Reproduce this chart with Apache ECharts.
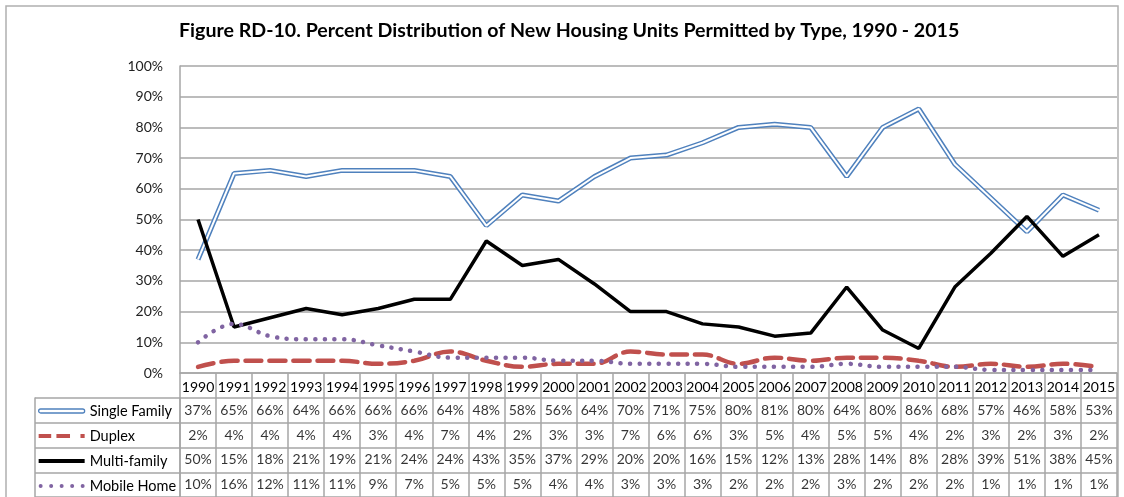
<!DOCTYPE html>
<html>
<head>
<meta charset="utf-8">
<script src="https://cdn.jsdelivr.net/npm/echarts@6/dist/echarts.min.js"></script>
<style>
html, body { margin: 0; padding: 0; background: #fff; }
#main { width: 1124px; height: 497px; }
</style>
</head>
<body>
<div id="main"></div>
<script>
// data
var years = ['1990','1991','1992','1993','1994','1995','1996','1997','1998','1999','2000','2001','2002',
	'2003','2004','2005','2006','2007','2008','2009','2010','2011','2012','2013','2014','2015'];
var singleFamily = [37,65,66,64,66,66,66,64,48,58,56,64,70,71,75,80,81,80,64,80,86,68,57,46,58,53];
var duplex       = [2,4,4,4,4,3,4,7,4,2,3,3,7,6,6,3,5,4,5,5,4,2,3,2,3,2];
var multiFamily  = [50,15,18,21,19,21,24,24,43,35,37,29,20,20,16,15,12,13,28,14,8,28,39,51,38,45];
var mobileHome   = [10,16,12,11,11,9,7,5,5,5,4,4,3,3,3,2,2,2,3,2,2,2,1,1,1,1];
var seriesNames  = ['Single Family','Duplex','Multi-family','Mobile Home'];

var FONT = 'Lato';
var GRIDC = '#a6a6a6';

// cells of the data table
var tableRows = [singleFamily, duplex, multiFamily, mobileHome];
var tableCells = [];
for (var r = 0; r < tableRows.length; r++) {
	for (var c = 0; c < years.length; c++) {
		tableCells.push([c, r, tableRows[r][c]]);
	}
}

var dots = '';
for (var d = 0; d < 5; d++) {
	var cx = 2 + d * 10.5;
	dots += 'M' + (cx - 2) + ',2 a2,2 0 1,0 4,0 a2,2 0 1,0 -4,0 ';
}

var option = {
	animation: false,
	backgroundColor: '#fff',
	textStyle: { fontFamily: FONT },
	title: {
		text: 'Figure RD-10. Percent Distribution of New Housing Units Permitted by Type, 1990 - 2015',
		left: 179,
		top: 21,
		padding: 0,
		textStyle: { fontFamily: FONT, fontSize: 19.6, fontWeight: 'bold', color: '#000' }
	},
	legend: {
		orient: 'vertical',
		left: 38,
		top: 403.5,
		padding: 0,
		itemWidth: 46,
		itemHeight: 14,
		itemGap: 10,
		selectedMode: false,
		textStyle: { fontFamily: FONT, fontSize: 14.5, lineHeight: 14, color: '#000' },
		data: [
			{ name: 'Single Family', icon: 'path://M2,0 L44,0 A2,2 0 0 1 44,4 L2,4 A2,2 0 0 1 2,0 Z',
				itemStyle: { color: '#fff', borderColor: '#4f81bd', borderWidth: 1.3 } },
			{ name: 'Duplex', icon: 'path://M0,0 L12,0 L12,4 L0,4 Z M17,0 L30,0 L30,4 L17,4 Z M40,0 L44,0 L44,4 L40,4 Z',
				itemStyle: { color: '#c0504d', borderWidth: 0 } },
			{ name: 'Multi-family', icon: 'path://M0,0 L46,0 L46,4 L0,4 Z',
				itemStyle: { color: '#000', borderWidth: 0 } },
			{ name: 'Mobile Home', icon: 'path://' + dots + 'M46,2 L46,2.01 Z',
				itemStyle: { color: '#8064a2', borderWidth: 0 } }
		]
	},
	graphic: [{
		type: 'rect',
		shape: { x: 6, y: 6, width: 1112, height: 500 },
		style: { fill: 'none', stroke: '#b0b0b0', lineWidth: 1.5 },
		silent: true, z: -10
	}],
	grid: [
		{ left: 180, right: 7, top: 66, height: 307 },
		{ left: 180, right: 7, top: 398, height: 100 }
	],
	xAxis: [{
		gridIndex: 0,
		type: 'category',
		data: years,
		boundaryGap: true,
		axisLine: { lineStyle: { color: GRIDC, width: 1.5 } },
		axisTick: { show: true, interval: 0, length: 25, lineStyle: { color: GRIDC, width: 1.5 } },
		axisLabel: { interval: 0, margin: 7, fontFamily: FONT, fontSize: 14, color: '#000' },
		splitLine: { show: false }
	}, {
		gridIndex: 1,
		type: 'category',
		data: years,
		boundaryGap: true,
		axisLine: { show: false },
		axisTick: { show: false },
		axisLabel: { show: false },
		splitLine: { show: true, interval: 0, lineStyle: { color: GRIDC, width: 1.5 } }
	}],
	yAxis: [{
		gridIndex: 0,
		type: 'value',
		min: 0,
		max: 100,
		interval: 10,
		axisLine: { show: true, lineStyle: { color: GRIDC, width: 1.5 } },
		axisTick: { show: false },
		axisLabel: { formatter: '{value}%', margin: 17, fontFamily: FONT, fontSize: 14, color: '#222' },
		splitLine: { show: true, lineStyle: { color: GRIDC, width: 1.5 } }
	}, {
		gridIndex: 1,
		type: 'category',
		data: seriesNames,
		inverse: true,
		boundaryGap: true,
		axisLine: { show: true, lineStyle: { color: GRIDC, width: 1.5 } },
		axisTick: { show: true, interval: 0, length: 145, lineStyle: { color: GRIDC, width: 1.5 } },
		axisLabel: { show: false },
		splitLine: { show: true, interval: 0, lineStyle: { color: GRIDC, width: 1.5 } }
	}, {
		// left edge of the legend column
		gridIndex: 1,
		type: 'value',
		position: 'left',
		offset: 145,
		axisLine: { show: true, lineStyle: { color: GRIDC, width: 1.5 } },
		axisTick: { show: false },
		axisLabel: { show: false },
		splitLine: { show: false }
	}],
	series: [{
		name: 'Single Family',
		type: 'line',
		data: singleFamily,
		symbol: 'none',
		silent: true,
		z: 2,
		lineStyle: { color: '#4f81bd', width: 5 }
	}, {
		name: 'sf-inner',
		type: 'line',
		data: singleFamily,
		symbol: 'none',
		silent: true,
		z: 3,
		lineStyle: { color: '#fff', width: 2 }
	}, {
		name: 'Duplex',
		type: 'line',
		data: duplex,
		symbol: 'none',
		smooth: 0.4,
		silent: true,
		z: 4,
		lineStyle: { color: '#c0504d', width: 4.5, type: [16, 8], cap: 'round' }
	}, {
		name: 'Multi-family',
		type: 'line',
		data: multiFamily,
		symbol: 'none',
		silent: true,
		z: 5,
		lineStyle: { color: '#000', width: 3.5 }
	}, {
		name: 'Mobile Home',
		type: 'line',
		data: mobileHome,
		symbol: 'none',
		smooth: 0.4,
		silent: true,
		z: 6,
		lineStyle: { color: '#8064a2', width: 4.5, type: [0.1, 9.5], cap: 'round' }
	}, {
		name: 'table',
		type: 'scatter',
		xAxisIndex: 1,
		yAxisIndex: 1,
		data: tableCells,
		symbolSize: 0,
		silent: true,
		label: {
			show: true,
			position: 'inside',
			fontFamily: FONT,
			fontSize: 14,
			color: '#000',
			formatter: function (p) { return p.value[2] + '%'; }
		}
	}]
};

var myChart = echarts.init(document.getElementById('main'));
myChart.setOption(option);
</script>
</body>
</html>
